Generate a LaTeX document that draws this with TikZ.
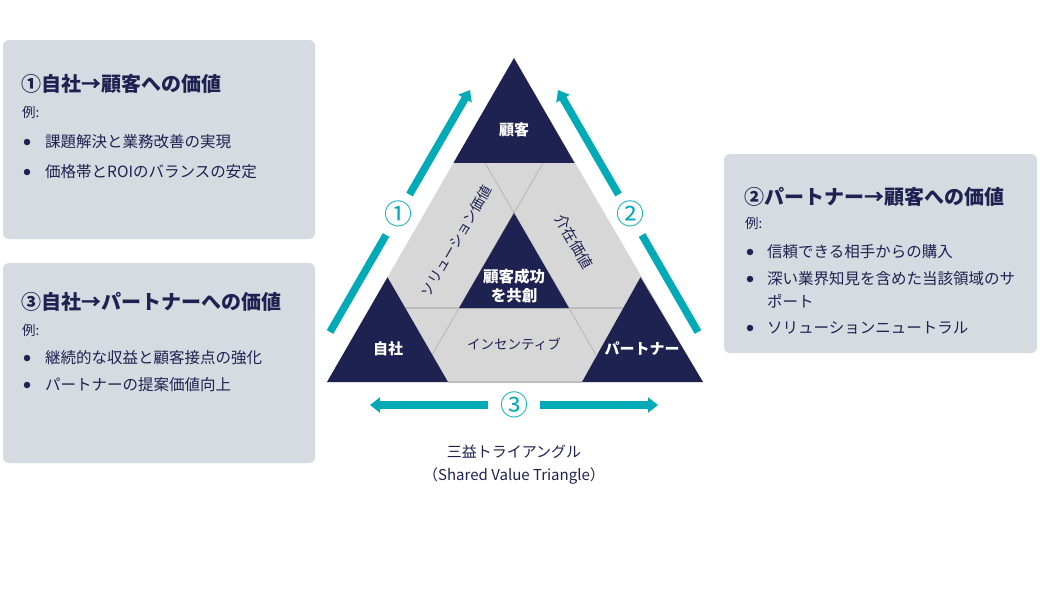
\documentclass[tikz,border=0pt]{standalone}
\usepackage{fontspec}
\setmainfont{Noto Sans CJK JP}
\usetikzlibrary{arrows.meta}
\definecolor{navy}{HTML}{1E2250}
\definecolor{tealc}{HTML}{00AAB6}
\definecolor{boxgray}{HTML}{D6DAE1}
\definecolor{hexgray}{HTML}{D7D7D7}
\definecolor{linegray}{HTML}{BDBDBD}
\begin{document}
\begin{tikzpicture}[x=1pt,y=-1pt,
  infobox/.style={fill=boxgray, rounded corners=6pt, draw=none, inner sep=0pt},
  boxtitle/.style={anchor=west, inner sep=0pt, text=navy, font=\fontsize{20}{23}\selectfont\bfseries},
  boxlead/.style={anchor=west, inner sep=0pt, text=navy, font=\fontsize{13.5}{16}\selectfont},
  boxitem/.style={anchor=west, inner sep=0pt, text=navy, font=\fontsize{15.5}{18}\selectfont},
  bulletdot/.style={circle, fill=navy, inner sep=0pt, minimum size=6.5pt},
  darktri/.style={fill=navy, draw=none},
  gridline/.style={draw=linegray, line width=1.1pt},
  corner/.style={text=white, inner sep=0pt, font=\fontsize{15}{18}\selectfont\bfseries},
  seglabel/.style={text=navy, inner sep=0pt, font=\fontsize{14}{17}\selectfont},
  flow/.style={draw=tealc, line width=7.5pt},
  flowtip/.style={-{Triangle[length=10pt,width=15pt]}},
  num/.style={text=tealc, inner sep=0pt, font=\fontsize{28}{30}\selectfont},
  caption/.style={text=navy, inner sep=0pt, font=\fontsize{15}{18}\selectfont}
]
\useasboundingbox (0,0) rectangle (1040,590);

% ---- info boxes ----
\node[infobox, minimum width=312pt, minimum height=199pt] (box1) at (159,139.5) {};
\node[infobox, minimum width=312pt, minimum height=200pt] (box3) at (159,363) {};
\node[infobox, minimum width=313pt, minimum height=199pt] (box2) at (880.5,253.5) {};

% box 1
\node[boxtitle] (b1t) at (21,84) {①自社→顧客への価値};
\node[boxlead] (b1l) at (22,112) {例:};
\node[bulletdot] (b1d1) at (27,142) {};
\node[boxitem] (b1i1) at (45,142) {課題解決と業務改善の実現};
\node[bulletdot] (b1d2) at (27,172) {};
\node[boxitem] (b1i2) at (45,172) {価格帯とROIのバランスの安定};

% box 3
\node[boxtitle] (b3t) at (21,302) {③自社→パートナーへの価値};
\node[boxlead] (b3l) at (22,330) {例:};
\node[bulletdot] (b3d1) at (27,358) {};
\node[boxitem] (b3i1) at (45,358) {継続的な収益と顧客接点の強化};
\node[bulletdot] (b3d2) at (27,385) {};
\node[boxitem] (b3i2) at (45,385) {パートナーの提案価値向上};

% box 2
\node[boxtitle] (b2t) at (744,197) {②パートナー→顧客への価値};
\node[boxlead] (b2l) at (745,223) {例:};
\node[bulletdot] (b2d1) at (750,252) {};
\node[boxitem] (b2i1) at (767,252) {信頼できる相手からの購入};
\node[bulletdot] (b2d2) at (750,279) {};
\node[boxitem] (b2i2) at (767,279) {深い業界知見を含めた当該領域のサ};
\node[boxitem] (b2i2b) at (767,301) {ポート};
\node[bulletdot] (b2d3) at (750,328) {};
\node[boxitem] (b2i3) at (767,328) {ソリューションニュートラル};

% ---- triangle ----
\coordinate (A) at (514,58);
\coordinate (B) at (327,382);
\coordinate (C) at (703,382);
\coordinate (t1) at (453.5,162.8);
\coordinate (t2) at (574.5,162.8);
\coordinate (l1) at (387.5,277.2);
\coordinate (l2) at (448,382);
\coordinate (r1) at (640.5,277.2);
\coordinate (r2) at (582,382);
\coordinate (i0) at (514,213);
\coordinate (i1) at (459,308);
\coordinate (i2) at (569,308);
\coordinate (h1) at (405.3,308);
\coordinate (h2) at (622.7,308);
\coordinate (p1) at (543,162.8);
\coordinate (p2) at (432.2,354.7);
\coordinate (q1) at (485,162.8);
\coordinate (q2) at (595.8,354.7);

\fill[hexgray] (A) -- (B) -- (C) -- cycle;
\draw[gridline] (h1) -- (h2);
\draw[gridline] (p1) -- (p2);
\draw[gridline] (q1) -- (q2);
\draw[gridline] (l2) -- (r2);
\fill[darktri] (A) -- (t1) -- (t2) -- cycle;
\fill[darktri] (B) -- (l1) -- (l2) -- cycle;
\fill[darktri] (C) -- (r1) -- (r2) -- cycle;
\fill[darktri] (i0) -- (i1) -- (i2) -- cycle;

\node[corner] (kokyaku) at (514,130) {顧客};
\node[corner] (jisha) at (388,349) {自社};
\node[corner] (partner) at (642,349) {パートナー};
\node[corner, align=center, font=\fontsize{15.5}{18.5}\selectfont\bfseries] (center) at (514,286) {顧客成功\\を共創};
\node[seglabel, font=\fontsize{13.5}{16}\selectfont] (incentive) at (514,344) {インセンティブ};
\node[seglabel, rotate=60] (solution) at (456,241) {ソリューション価値};
\node[seglabel, rotate=-60, font=\fontsize{15}{17}\selectfont] (kaizai) at (574,242) {介在価値};

% ---- arrows ----
\coordinate (a1s) at (330,332);
\coordinate (a1m) at (386,235);
\coordinate (a1n) at (409.5,194.5);
\coordinate (a1e) at (470,90);
\node[num] (n1) at (398,214) {①};
\draw[flow] (a1s) -- (a1m);
\draw[flow, flowtip] (a1n) -- (a1e);

\coordinate (a2s) at (698,332);
\coordinate (a2m) at (642,235);
\coordinate (a2n) at (618.5,194.5);
\coordinate (a2e) at (558,90);
\node[num] (n2) at (630,214) {②};
\draw[flow] (a2s) -- (a2m);
\draw[flow, flowtip] (a2n) -- (a2e);

\coordinate (a3l) at (370,405);
\coordinate (a3a) at (488,405);
\coordinate (a3b) at (540,405);
\coordinate (a3r) at (658,405);
\node[num] (n3) at (514,405) {③};
\draw[flow, flowtip] (a3a) -- (a3l);
\draw[flow, flowtip] (a3b) -- (a3r);

% ---- caption ----
\node[caption] (cap1) at (514,452) {三益トライアングル};
\node[caption] (cap2) at (514,476) {（Shared Value Triangle）};
\end{tikzpicture}
\end{document}
